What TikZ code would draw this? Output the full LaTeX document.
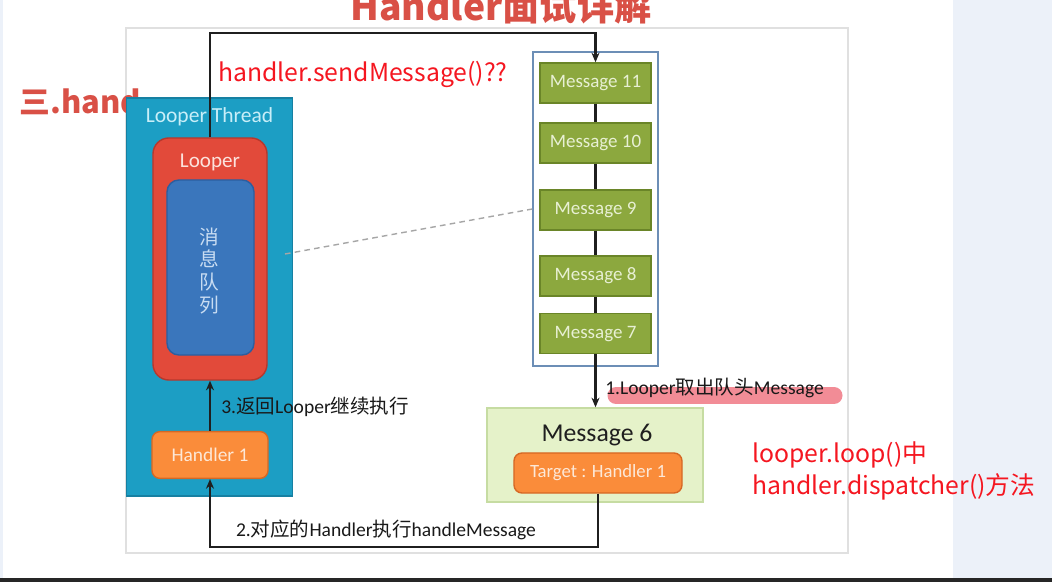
\documentclass[tikz,border=0pt]{standalone}
\usepackage{fontspec}
\setmainfont{Carlito}
\newfontfamily\cjk{Noto Sans CJK SC}
\usetikzlibrary{arrows.meta,positioning}
\definecolor{slidered}{RGB}{217,80,70}
\definecolor{notered}{RGB}{245,22,32}
\definecolor{stripblue}{RGB}{236,241,249}
\definecolor{threadteal}{RGB}{28,158,196}
\definecolor{threadedge}{RGB}{22,128,162}
\definecolor{looperred}{RGB}{226,74,58}
\definecolor{looperedge}{RGB}{182,56,45}
\definecolor{queueblue}{RGB}{58,118,188}
\definecolor{queueedge}{RGB}{44,94,160}
\definecolor{handorange}{RGB}{250,140,58}
\definecolor{handedge}{RGB}{214,104,36}
\definecolor{msggreen}{RGB}{140,168,62}
\definecolor{msgedge}{RGB}{106,133,40}
\definecolor{msglight}{RGB}{229,242,201}
\definecolor{msglightedge}{RGB}{198,220,162}
\definecolor{boxblue}{RGB}{108,142,182}
\definecolor{marker}{RGB}{240,120,132}
\begin{document}
\begin{tikzpicture}[x=0.025cm, y=-0.025cm, on grid, >={Stealth[length=2.4mm,width=2mm]},
  flow/.style={draw=black!88, line width=1.5pt},
  msg/.style={draw=msgedge, fill=msggreen, line width=1pt, minimum width=2.78cm, minimum height=1cm, inner sep=0pt, text={rgb,255:red,232;green,240;blue,212}, font=\fontsize{13.5}{16}\selectfont},
  hand/.style={draw=handedge, fill=handorange, line width=1pt, rounded corners=0.2cm, inner sep=0pt, text={rgb,255:red,253;green,232;blue,215}},
  steplabel/.style={inner sep=0pt, text=black!90, font=\fontsize{13.9}{16}\selectfont},
  note/.style={inner sep=0pt, text=notered, font=\cjk\fontsize{17.6}{22.8}\selectfont}]
  \useasboundingbox (0,0) rectangle (1052,582);
  \fill[white] (0,0) rectangle (1052,582);
  \fill[stripblue] (953,0) rectangle (1052,578);
  \fill[stripblue] (0,0) rectangle (3,578);
  \fill[black!85] (0,578) rectangle (1052,582);
  \draw[black!12, line width=1pt] (126,28) rectangle (848,553);

  % heading, partly hidden
  \node[anchor=base, text=slidered, font=\cjk\bfseries\fontsize{26.5}{30}\selectfont] (title) at (501,21) {Handler面试详解};
  \node[anchor=base west, inner sep=0pt, text=slidered, font=\cjk\bfseries\fontsize{22}{24}\selectfont] (sect) at (19,114) {三.hand};

  % looper thread
  \node[draw=threadedge, fill=threadteal, line width=1pt, minimum width=4.15cm, minimum height=9.95cm] (thread) at (209.5,297) {};
  \node[text={rgb,255:red,200;green,238;blue,248}, font=\fontsize{15.3}{18}\selectfont] (threadlbl) at (209.5,117) {Looper Thread};
  \node[draw=looperedge, fill=looperred, line width=1pt, rounded corners=0.4cm, minimum width=2.85cm, minimum height=6.05cm] (looper) at (210,259) {};
  \node[text={rgb,255:red,252;green,226;blue,220}, font=\fontsize{15}{18}\selectfont] (looperlbl) at (210,162) {Looper};
  \node[draw=queueedge, fill=queueblue, line width=1pt, rounded corners=0.3cm, minimum width=2.175cm, minimum height=4.375cm] (queue) at (210.5,267.5) {};
  \node[align=center, text={rgb,255:red,200;green,220;blue,242}, font=\cjk\fontsize{14}{16.3}\selectfont] (queuetxt) at (209.5,271) {消\\息\\队\\列};
  \node[hand, minimum width=2.9cm, minimum height=1.17cm, font=\fontsize{13.8}{16}\selectfont] (handler) at (210,455) {Handler 1};

  % message queue
  \node[draw=boxblue, line width=1pt, minimum width=3.125cm, minimum height=7.85cm] (msgbox) at (595.5,209) {};
  \node[msg] (m11) at (595.5,83) {Message 11};
  \node[msg] (m10) [below = 1.5 cm of m11] {Message 10};
  \node[msg] (m9) [below = 1.675 cm of m10] {Message 9};
  \node[msg] (m8) [below = 1.65 cm of m9] {Message 8};
  \node[msg] (m7) [below = 1.44 cm of m8] {Message 7};

  \node[draw=msglightedge, fill=msglight, line width=1pt, minimum width=5.4cm, minimum height=2.35cm] (m6) at (595,455) {};
  \node[text=black!88, font=\fontsize{18.3}{20}\selectfont] (m6lbl) at (597,435) {Message 6};
  \node[hand, minimum width=4.2cm, minimum height=1cm, font=\fontsize{13.3}{16}\selectfont] (target) at (598,473) {Target : Handler 1};

  \coordinate (topR) at (595.5,33);
  \coordinate (botL) at (210,547);
  \coordinate (dashA) at (285,254);

  \draw[flow, ->] (looper.north) |- (topR) -- (m11.north);
  \draw[flow] (m11) -- (m10);
  \draw[flow] (m10) -- (m9);
  \draw[flow] (m9) -- (m8);
  \draw[flow] (m8) -- (m7);
  \draw[flow, ->] (m7.south) -- (m6.north -| m7.south);
  \draw[flow, ->] (target.south) |- (botL) -- (handler.south);
  \draw[flow, ->] (handler.north) -- (looper.south);
  \draw[black!35, line width=1pt, dash pattern=on 4pt off 3pt] (dashA) -- (msgbox.west);

  % step labels
  \draw[marker, opacity=0.85, line width=0.425cm, line cap=round] (616,395.5) -- (834,395.5);
  \node[steplabel, anchor=west] (step1) at (605,388) {1.Looper{\cjk 取出队头}Message};
  \node[steplabel] (step2) at (386,530) {2.{\cjk 对应的}Handler{\cjk 执行}handleMessage};
  \node[steplabel, anchor=west] (step3) at (221,407) {3.{\cjk 返回}Looper{\cjk 继续执行}};

  % notes
  \node[note, anchor=base west] (sendnote) at (218,82) {handler.sendMessage()??};
  \node[note, anchor=west, align=left] (dispnote) at (752,471) {looper.loop()中\\handler.dispatcher()方法};
\end{tikzpicture}
\end{document}
